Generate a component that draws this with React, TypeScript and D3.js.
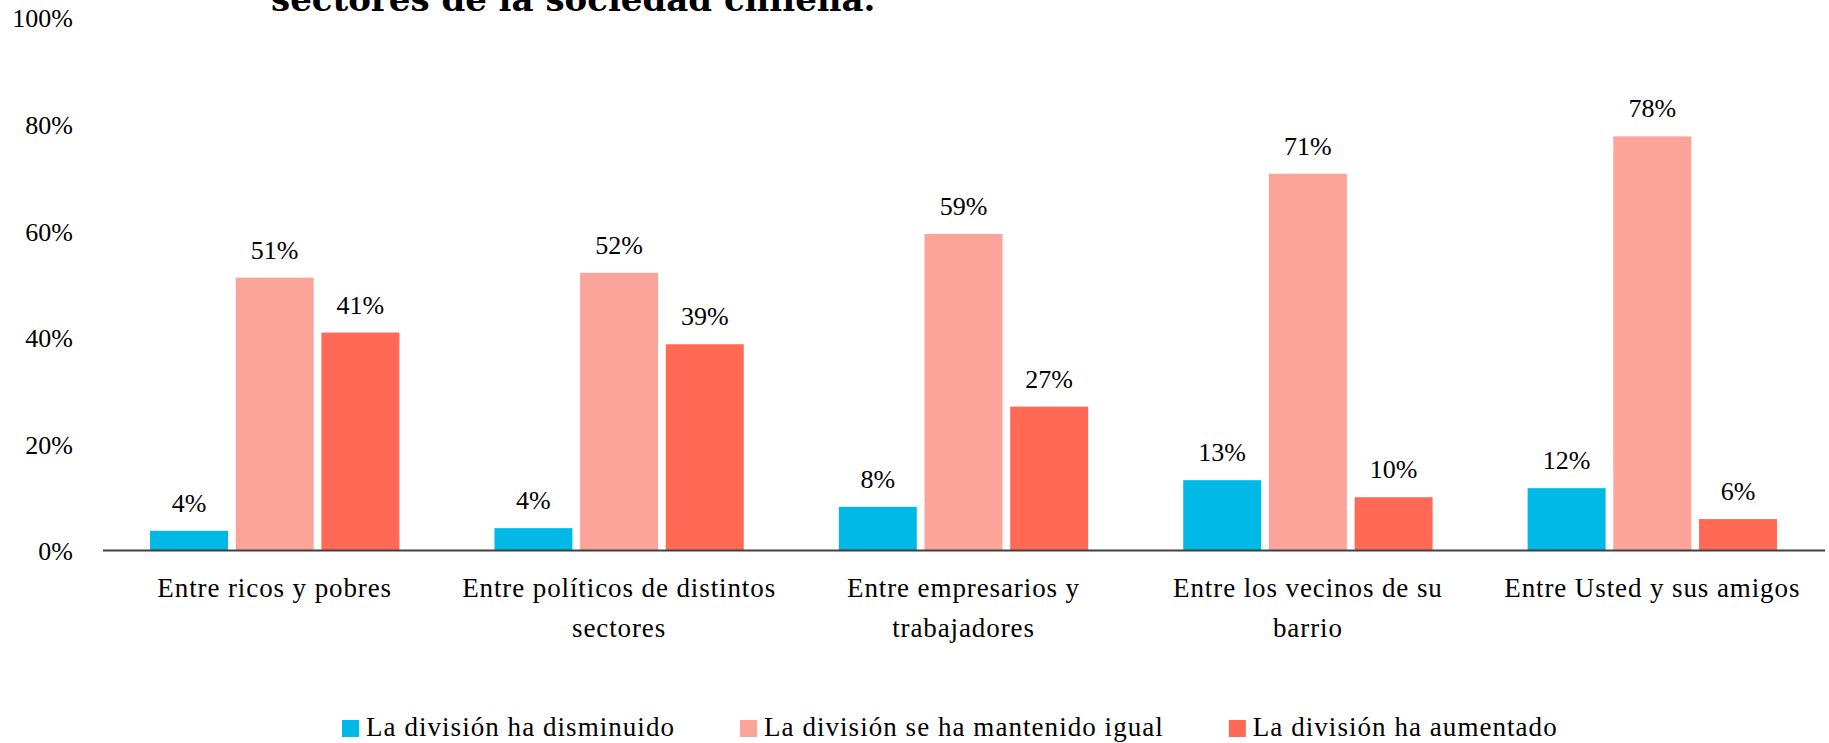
import React, { useEffect, useRef } from "react";
import * as d3 from "d3";

// categories (with the line breaks used under the axis)
const categories = [
  "Entre ricos y pobres",
  "Entre políticos de distintos sectores",
  "Entre empresarios y trabajadores",
  "Entre los vecinos de su barrio",
  "Entre Usted y sus amigos",
];
const categoryLines = [
  ["Entre ricos y pobres"],
  ["Entre políticos de distintos", "sectores"],
  ["Entre empresarios y", "trabajadores"],
  ["Entre los vecinos de su", "barrio"],
  ["Entre Usted y sus amigos"],
];

const seriesNames = [
  "La división ha disminuido",
  "La división se ha mantenido igual",
  "La división ha aumentado",
];
const seriesColors = ["#00b9e6", "#fca499", "#ff6955"];

// values in %
const disminuido = [3.6, 4.1, 8.1, 13.1, 11.6];
const mantenido = [51.1, 52.0, 59.3, 70.6, 77.6];
const aumentado = [40.8, 38.6, 26.9, 9.9, 5.8];

const yTicks = [0, 20, 40, 60, 80, 100];

const titleText = "sectores de la sociedad chilena.";

const W = 1829;
const H = 743;
const FONT = "'Liberation Serif', 'Times New Roman', serif";

export default function App() {
  const ref = useRef<SVGSVGElement>(null);

  useEffect(() => {
    const svg = d3.select(ref.current);
    svg.selectAll("*").remove();

    const seriesValues = [disminuido, mantenido, aumentado];

    const x0 = d3.scaleBand()
      .domain(categories)
      .range([102.5, 1824.5])
      .paddingInner(0.276)
      .paddingOuter(0.138);

    const x1 = d3.scaleBand()
      .domain(seriesNames)
      .range([0, x0.bandwidth()])
      .paddingInner(0.09);

    const y = d3.scaleLinear().domain([0, 100]).range([550, 17]);

    // title, cut off by the top of the page
    svg.append("text")
      .attr("x", 271)
      .attr("y", 11)
      .attr("font-family", "'DejaVu Serif', serif")
      .attr("font-weight", "bold")
      .attr("font-size", 34)
      .attr("fill", "#000")
      .text(titleText);

    // y axis labels only
    const yAxis = svg.append("g")
      .attr("transform", "translate(76,0)")
      .call(d3.axisLeft(y).tickValues(yTicks).tickFormat((d) => d + "%").tickSize(0).tickPadding(3));
    yAxis.select(".domain").remove();
    yAxis.selectAll("text")
      .attr("font-family", FONT)
      .attr("font-size", 26)
      .attr("fill", "#000")
      .attr("dy", "0.38em");

    // bars
    categories.forEach((cat, i) => {
      const g = svg.append("g").attr("transform", "translate(" + x0(cat) + ",0)");
      seriesNames.forEach((s, j) => {
        const v = seriesValues[j][i];
        g.append("rect")
          .attr("x", x1(s))
          .attr("y", y(v))
          .attr("width", x1.bandwidth())
          .attr("height", y(0) - y(v))
          .attr("fill", seriesColors[j]);
        g.append("text")
          .attr("x", x1(s)! + x1.bandwidth() / 2)
          .attr("y", y(v) - 19)
          .attr("text-anchor", "middle")
          .attr("font-family", FONT)
          .attr("font-size", 26)
          .attr("fill", "#000")
          .text(Math.round(v) + "%");
      });
    });

    // x axis line
    const xAxis = svg.append("g")
      .attr("transform", "translate(0," + y(0) + ")")
      .call(d3.axisBottom(x0).tickSize(0).tickSizeOuter(0).tickFormat(() => ""));
    xAxis.select(".domain").attr("stroke", "#404040").attr("stroke-width", 2);
    xAxis.selectAll(".tick text").remove();

    // category labels
    categories.forEach((cat, i) => {
      const t = svg.append("text")
        .attr("text-anchor", "middle")
        .attr("font-family", FONT)
        .attr("font-size", 27)
        .attr("letter-spacing", 0.9)
        .attr("fill", "#000");
      categoryLines[i].forEach((line, k) => {
        t.append("tspan")
          .attr("x", x0(cat)! + x0.bandwidth() / 2)
          .attr("y", y(0) + 47 + k * 39.5)
          .text(line);
      });
    });

    // legend
    const legend = svg.append("g");
    let lx = 342;
    seriesNames.forEach((s, j) => {
      legend.append("rect")
        .attr("x", lx)
        .attr("y", 720)
        .attr("width", 17)
        .attr("height", 17)
        .attr("fill", seriesColors[j]);
      const t = legend.append("text")
        .attr("x", lx + 24)
        .attr("y", 736)
        .attr("font-family", FONT)
        .attr("font-size", 27)
        .attr("letter-spacing", 1.05)
        .attr("fill", "#000")
        .text(s);
      const w = (t.node() as SVGTextElement).getComputedTextLength();
      lx = lx + 24 + w + 65;
    });
  }, []);

  return (
    <svg
      ref={ref}
      width={W}
      height={H}
      style={{ position: "absolute", left: 0, top: 0, background: "#fff" }}
    />
  );
}
